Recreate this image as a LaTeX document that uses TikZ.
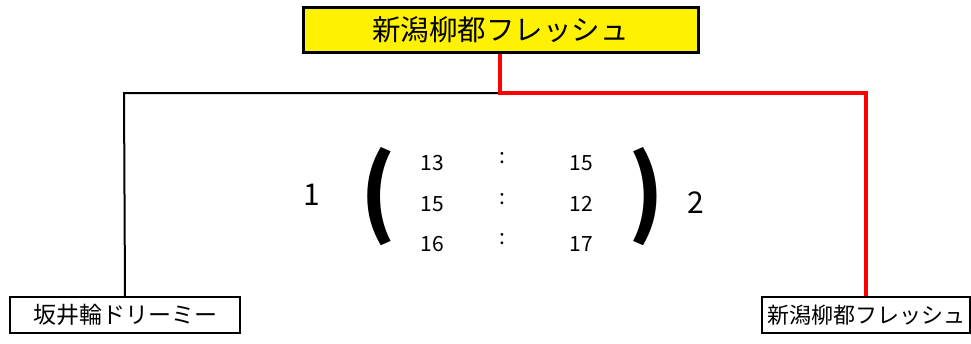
\documentclass[tikz,border=0pt]{standalone}
\usepackage{fontspec}
\setmainfont{Noto Sans CJK JP}
\usetikzlibrary{positioning}
\tikzset{
    teambox/.style={draw=black,line width=1.5pt,inner sep=0pt},
    winbox/.style={draw=black,fill=yellow,line width=3pt,inner sep=0pt,font=\fontsize{28.5}{28.5}\selectfont},
    score/.style={font=\fontsize{21}{21}\selectfont},
    paren/.style={font=\fontsize{94}{94}\selectfont\bfseries,xscale=0.95},
    sets/.style={font=\fontsize{30}{30}\selectfont},
    wonline/.style={red,line width=4pt},
    lostline/.style={black,line width=2pt},
}
\begin{document}
\begin{tikzpicture}[x=1pt,y=-1pt]
    \useasboundingbox (0,0) rectangle (971,343);
    \node[winbox,minimum width=395pt,minimum height=45pt] (Winner) at (500.5,29.5) {新潟柳都フレッシュ};
    \node[teambox,minimum width=230pt,minimum height=36pt,font=\fontsize{23}{23}\selectfont] (Sakai) at (125,315) {坂井輪ドリーミー};
    \node[teambox,minimum width=208pt,minimum height=36pt,font=\fontsize{22}{22}\selectfont] (Niigata) at (866,315) {新潟柳都フレッシュ};
    \coordinate (Mid) at (500,93);
    \coordinate (LeftCorner) at (124,93);
    \coordinate (RightCorner) at (866,93);
    % bracket lines
    \draw[lostline] (Sakai.north) -- (LeftCorner) -- (Mid);
    \draw[wonline] (Winner.south -| Mid) -- (Mid) -- (RightCorner) -- (Niigata.north);
    % sets
    \node[sets] (SetsA) at (312,195) {1};
    \node[sets] (SetsB) at (696,203) {2};
    \node[paren] (OpenP) at (378,197) {(};
    \node[paren] (CloseP) at (646,197) {)};
    \node[score] (A1) at (432,163) {13};
    \node[score] (B1) at (581,163) {15};
    \node[score] (A2) at (432,204) {15};
    \node[score] (B2) at (581,204) {12};
    \node[score] (A3) at (432,244) {16};
    \node[score] (B3) at (581,244) {17};
    \node[score] (C1) at (502,158) {:};
    \node[score] (C2) at (502,199) {:};
    \node[score] (C3) at (502,239) {:};
\end{tikzpicture}
\end{document}
